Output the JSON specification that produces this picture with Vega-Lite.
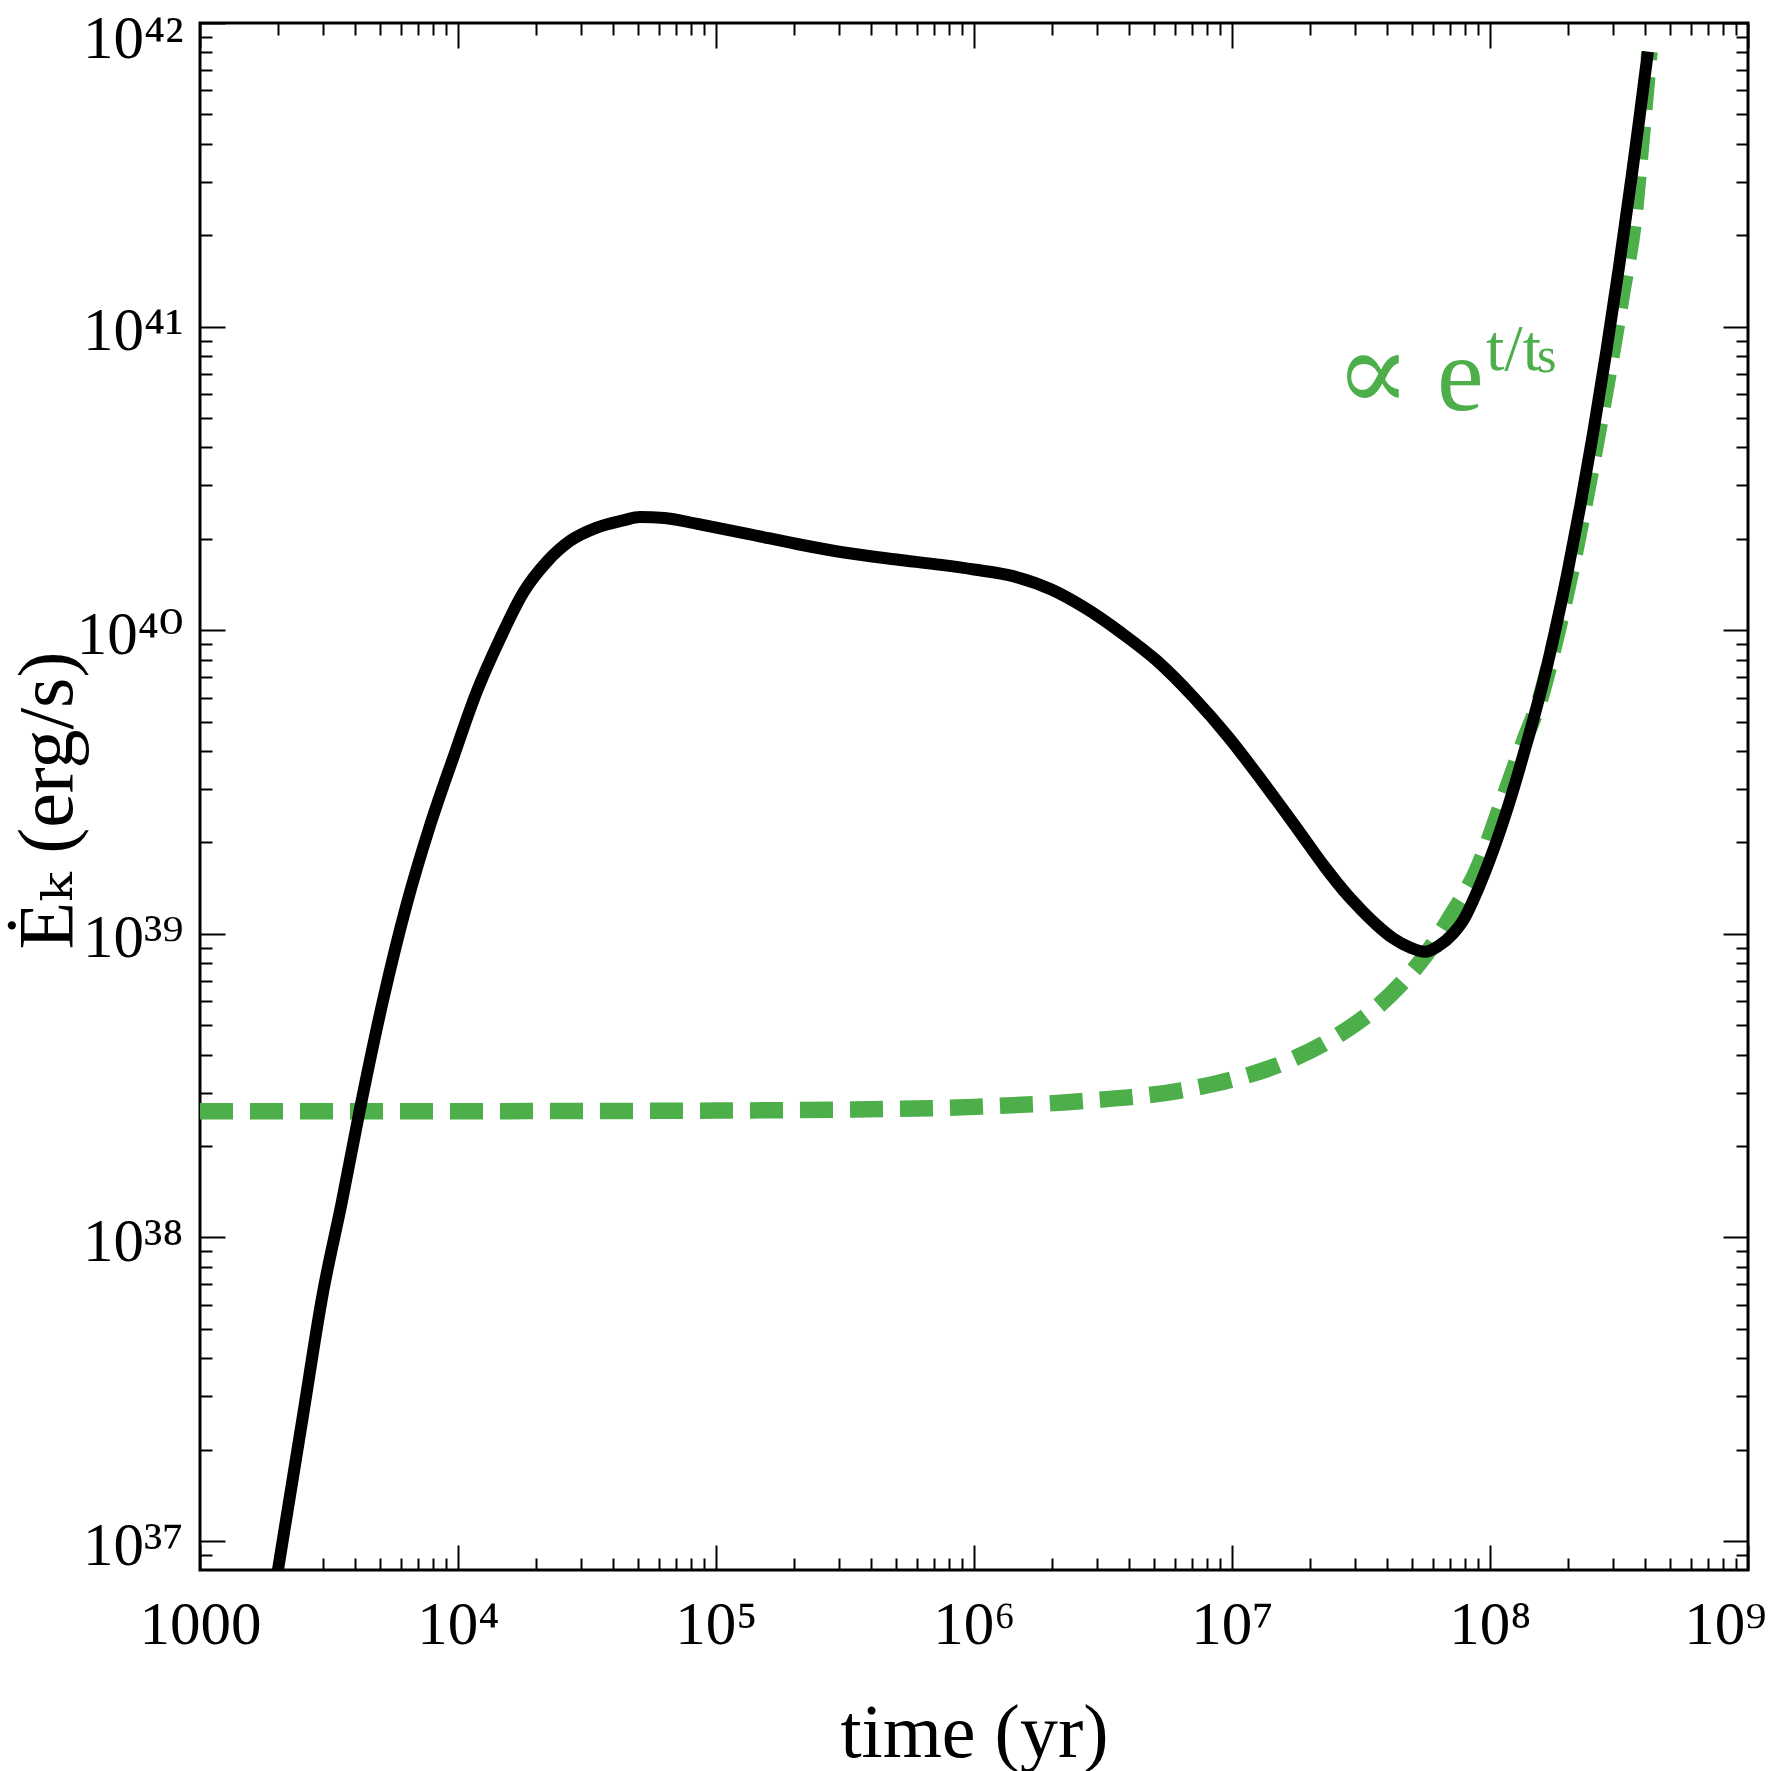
{
  "$schema": "https://vega.github.io/schema/vega-lite/v6.json",
  "width": 1548,
  "height": 1547,
  "autosize": {"type": "none"},
  "padding": {"left": 200, "top": 23, "right": 23, "bottom": 201},
  "background": "white",
  "config": {
    "view": {"stroke": "black", "strokeWidth": 3},
    "font": "Liberation Serif, DejaVu Serif, serif"
  },
  "resolve": {"axis": {"x": "independent", "y": "independent"}},
  "layer": [
    {
      "data": {"values": [
        {"t": 1000, "E": 2.606e38},
        {"t": 10000, "E": 2.606e38},
        {"t": 100000, "E": 2.618e38},
        {"t": 316228, "E": 2.636e38},
        {"t": 1000000, "E": 2.692e38},
        {"t": 2511900, "E": 2.805e38},
        {"t": 6309600, "E": 3.048e38},
        {"t": 10000000, "E": 3.311e38},
        {"t": 15849000, "E": 3.758e38},
        {"t": 25119000, "E": 4.571e38},
        {"t": 35481000, "E": 5.623e38},
        {"t": 44668000, "E": 6.761e38},
        {"t": 56234000, "E": 8.511e38},
        {"t": 70795000, "E": 1.148e39},
        {"t": 89125000, "E": 1.622e39},
        {"t": 112200000, "E": 2.754e39},
        {"t": 134590000, "E": 4.236e39},
        {"t": 158490000, "E": 6.166e39},
        {"t": 181970000, "E": 9.772e39},
        {"t": 212320000, "E": 1.758e40},
        {"t": 245470000, "E": 3.311e40},
        {"t": 286420000, "E": 6.823e40},
        {"t": 323590000, "E": 1.259e41},
        {"t": 364750000, "E": 2.404e41},
        {"t": 389050000, "E": 4.365e41},
        {"t": 414950000, "E": 8.035e41}
      ]},
      "mark": {"type": "line", "color": "#4DAF4A", "strokeWidth": 16.5, "strokeDash": [33, 17], "interpolate": "monotone", "clip": true},
      "encoding": {
        "x": {
          "field": "t", "type": "quantitative",
          "scale": {"type": "log", "domain": [1000, 1000000000], "nice": false},
          "axis": {
            "orient": "top", "title": null, "labels": false, "domain": false, "grid": false,
            "values": [1000,2000,3000,4000,5000,6000,7000,8000,9000,10000,20000,30000,40000,50000,60000,70000,80000,90000,100000,200000,300000,400000,500000,600000,700000,800000,900000,1000000,2000000,3000000,4000000,5000000,6000000,7000000,8000000,9000000,10000000,20000000,30000000,40000000,50000000,60000000,70000000,80000000,90000000,100000000,200000000,300000000,400000000,500000000,600000000,700000000,800000000,900000000,1000000000],
            "tickSize": {"condition": {"test": "abs(log(datum.value)/LN10 - round(log(datum.value)/LN10)) < 1e-6", "value": -25}, "value": -12},
            "tickWidth": 2, "tickColor": "black"
          }
        },
        "y": {
          "field": "E", "type": "quantitative",
          "scale": {"type": "log", "domain": [8.03e36, 1e42], "nice": false},
          "axis": {
            "orient": "right", "title": null, "labels": false, "domain": false, "grid": false,
            "values": [9e36,1e37,2e37,3e37,4e37,5e37,6e37,7e37,8e37,9e37,1e38,2e38,3e38,4e38,5e38,6e38,7e38,8e38,9e38,1e39,2e39,3e39,4e39,5e39,6e39,7e39,8e39,9e39,1e40,2e40,3e40,4e40,5e40,6e40,7e40,8e40,9e40,1e41,2e41,3e41,4e41,5e41,6e41,7e41,8e41,9e41,1e42],
            "tickSize": {"condition": {"test": "abs(log(datum.value)/LN10 - round(log(datum.value)/LN10)) < 1e-6", "value": -25}, "value": -12},
            "tickWidth": 2, "tickColor": "black"
          }
        }
      }
    },
    {
      "data": {"values": [
        {"t": 1949.8, "E": 6.934e36},
        {"t": 2004.5, "E": 8.017e36},
        {"t": 2511.9, "E": 2.618e37},
        {"t": 2985.4, "E": 6.471e37},
        {"t": 3548.1, "E": 1.312e38},
        {"t": 4168.7, "E": 2.649e38},
        {"t": 5140.4, "E": 6.124e38},
        {"t": 6324.1, "E": 1.250e39},
        {"t": 7780.4, "E": 2.265e39},
        {"t": 9594.2, "E": 3.811e39},
        {"t": 11803, "E": 6.252e39},
        {"t": 14555, "E": 9.376e39},
        {"t": 17906, "E": 1.330e40},
        {"t": 22080, "E": 1.679e40},
        {"t": 27164, "E": 1.968e40},
        {"t": 34514, "E": 2.178e40},
        {"t": 43752, "E": 2.301e40},
        {"t": 50699, "E": 2.360e40},
        {"t": 63096, "E": 2.344e40},
        {"t": 84723, "E": 2.239e40},
        {"t": 135520, "E": 2.070e40},
        {"t": 206060, "E": 1.923e40},
        {"t": 318420, "E": 1.799e40},
        {"t": 501190, "E": 1.710e40},
        {"t": 746450, "E": 1.641e40},
        {"t": 1000000, "E": 1.585e40},
        {"t": 1415800, "E": 1.507e40},
        {"t": 1995300, "E": 1.361e40},
        {"t": 2685300, "E": 1.186e40},
        {"t": 3715400, "E": 9.817e39},
        {"t": 5105000, "E": 7.943e39},
        {"t": 7079500, "E": 6.026e39},
        {"t": 9682800, "E": 4.446e39},
        {"t": 13183000, "E": 3.162e39},
        {"t": 18365000, "E": 2.153e39},
        {"t": 22909000, "E": 1.660e39},
        {"t": 28184000, "E": 1.334e39},
        {"t": 31623000, "E": 1.202e39},
        {"t": 36308000, "E": 1.072e39},
        {"t": 42170000, "E": 9.660e38},
        {"t": 48978000, "E": 9.016e38},
        {"t": 55976000, "E": 8.730e38},
        {"t": 63096000, "E": 9.120e38},
        {"t": 72111000, "E": 1.005e39},
        {"t": 79433000, "E": 1.122e39},
        {"t": 86099000, "E": 1.291e39},
        {"t": 103040000, "E": 1.888e39},
        {"t": 119670000, "E": 2.761e39},
        {"t": 138680000, "E": 4.236e39},
        {"t": 158490000, "E": 6.442e39},
        {"t": 177830000, "E": 9.750e39},
        {"t": 199530000, "E": 1.545e40},
        {"t": 223870000, "E": 2.570e40},
        {"t": 251190000, "E": 4.477e40},
        {"t": 281840000, "E": 8.204e40},
        {"t": 316230000, "E": 1.574e41},
        {"t": 354810000, "E": 3.170e41},
        {"t": 380190000, "E": 4.932e41},
        {"t": 409260000, "E": 8.035e41}
      ]},
      "mark": {"type": "line", "color": "black", "strokeWidth": 12, "interpolate": "monotone", "clip": true},
      "encoding": {
        "x": {
          "field": "t", "type": "quantitative",
          "scale": {"type": "log", "domain": [1000, 1000000000], "nice": false},
          "axis": {
            "orient": "bottom", "domain": false, "grid": false,
            "values": [1000,2000,3000,4000,5000,6000,7000,8000,9000,10000,20000,30000,40000,50000,60000,70000,80000,90000,100000,200000,300000,400000,500000,600000,700000,800000,900000,1000000,2000000,3000000,4000000,5000000,6000000,7000000,8000000,9000000,10000000,20000000,30000000,40000000,50000000,60000000,70000000,80000000,90000000,100000000,200000000,300000000,400000000,500000000,600000000,700000000,800000000,900000000,1000000000],
            "labelExpr": "datum.value == 1000 ? '1000' : datum.value == 10000 ? '10⁴' : datum.value == 100000 ? '10⁵' : datum.value == 1000000 ? '10⁶' : datum.value == 10000000 ? '10⁷' : datum.value == 100000000 ? '10⁸' : datum.value == 1000000000 ? '10⁹' : ''",
            "tickSize": {"condition": {"test": "abs(log(datum.value)/LN10 - round(log(datum.value)/LN10)) < 1e-6", "value": -25}, "value": -12},
            "tickWidth": 2, "tickColor": "black",
            "labelFont": "Liberation Serif, DejaVu Serif, serif", "labelFontSize": 61, "labelColor": "black",
            "labelAlign": "center", "labelBaseline": "alphabetic", "labelPadding": 98,
            "labelOverlap": false, "labelBound": false, "labelFlush": false,
            "labelOffset": {"condition": {"test": "datum.value == 1000000000", "value": -23}, "value": 0},
            "title": "time (yr)", "titleFont": "Liberation Serif, DejaVu Serif, serif", "titleFontSize": 76,
            "titleFontWeight": "normal", "titleColor": "black",
            "titleX": 774, "titleY": 186, "titleAlign": "center", "titleBaseline": "alphabetic"
          }
        },
        "y": {
          "field": "E", "type": "quantitative",
          "scale": {"type": "log", "domain": [8.03e36, 1e42], "nice": false},
          "axis": {
            "orient": "left", "domain": false, "grid": false,
            "values": [9e36,1e37,2e37,3e37,4e37,5e37,6e37,7e37,8e37,9e37,1e38,2e38,3e38,4e38,5e38,6e38,7e38,8e38,9e38,1e39,2e39,3e39,4e39,5e39,6e39,7e39,8e39,9e39,1e40,2e40,3e40,4e40,5e40,6e40,7e40,8e40,9e40,1e41,2e41,3e41,4e41,5e41,6e41,7e41,8e41,9e41,1e42],
            "labelExpr": "datum.value == 1e37 ? '10³⁷' : datum.value == 1e38 ? '10³⁸' : datum.value == 1e39 ? '10³⁹' : datum.value == 1e40 ? '10⁴⁰' : datum.value == 1e41 ? '10⁴¹' : datum.value == 1e42 ? '10⁴²' : ''",
            "tickSize": {"condition": {"test": "abs(log(datum.value)/LN10 - round(log(datum.value)/LN10)) < 1e-6", "value": -25}, "value": -12},
            "tickWidth": 2, "tickColor": "black",
            "labelFont": "Liberation Serif, DejaVu Serif, serif", "labelFontSize": 61, "labelColor": "black",
            "labelAlign": "right", "labelBaseline": "alphabetic", "labelPadding": 42,
            "labelOverlap": false, "labelBound": false, "labelFlush": false,
            "labelOffset": {"condition": {"test": "datum.value == 1e42", "value": 34}, "value": 23},
            "title": "Ėₖ (erg/s)", "titleFont": "Liberation Serif, DejaVu Serif, serif", "titleFontSize": 78,
            "titleFontWeight": "normal", "titleColor": "black", "titleAngle": -90,
            "titleX": -129, "titleY": 777, "titleAlign": "center", "titleBaseline": "alphabetic"
          }
        }
      }
    },
    {
      "data": {"values": [{"t": 25070000, "E": 5.312e40, "label": "∝"}]},
      "mark": {"type": "text", "align": "left", "baseline": "alphabetic", "font": "Liberation Serif, DejaVu Serif, serif", "fontSize": 112, "color": "#4DAF4A"},
      "encoding": {
        "x": {"field": "t", "type": "quantitative", "scale": {"type": "log", "domain": [1000, 1000000000], "nice": false}, "axis": null},
        "y": {"field": "E", "type": "quantitative", "scale": {"type": "log", "domain": [8.03e36, 1e42], "nice": false}, "axis": null},
        "text": {"field": "label"}
      }
    },
    {
      "data": {"values": [{"t": 62320000, "E": 5.312e40, "label": "e"}]},
      "mark": {"type": "text", "align": "left", "baseline": "alphabetic", "font": "Liberation Serif, DejaVu Serif, serif", "fontSize": 105, "color": "#4DAF4A"},
      "encoding": {
        "x": {"field": "t", "type": "quantitative", "scale": {"type": "log", "domain": [1000, 1000000000], "nice": false}, "axis": null},
        "y": {"field": "E", "type": "quantitative", "scale": {"type": "log", "domain": [8.03e36, 1e42], "nice": false}, "axis": null},
        "text": {"field": "label"}
      }
    },
    {
      "data": {"values": [{"t": 96490000, "E": 7.194e40, "label": "t/t"}]},
      "mark": {"type": "text", "align": "left", "baseline": "alphabetic", "font": "Liberation Serif, DejaVu Serif, serif", "fontSize": 66, "color": "#4DAF4A"},
      "encoding": {
        "x": {"field": "t", "type": "quantitative", "scale": {"type": "log", "domain": [1000, 1000000000], "nice": false}, "axis": null},
        "y": {"field": "E", "type": "quantitative", "scale": {"type": "log", "domain": [8.03e36, 1e42], "nice": false}, "axis": null},
        "text": {"field": "label"}
      }
    },
    {
      "data": {"values": [{"t": 152100000, "E": 7.088e40, "label": "s"}]},
      "mark": {"type": "text", "align": "left", "baseline": "alphabetic", "font": "Liberation Serif, DejaVu Serif, serif", "fontSize": 50, "color": "#4DAF4A"},
      "encoding": {
        "x": {"field": "t", "type": "quantitative", "scale": {"type": "log", "domain": [1000, 1000000000], "nice": false}, "axis": null},
        "y": {"field": "E", "type": "quantitative", "scale": {"type": "log", "domain": [8.03e36, 1e42], "nice": false}, "axis": null},
        "text": {"field": "label"}
      }
    }
  ]
}
